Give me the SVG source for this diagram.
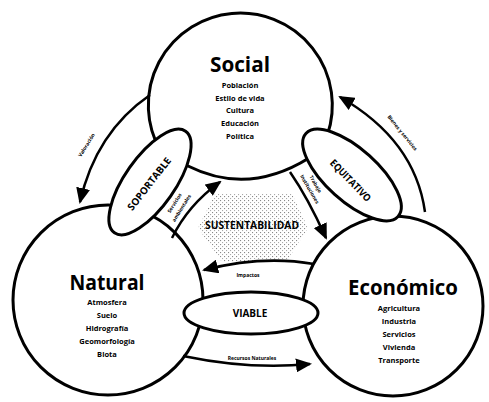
<svg xmlns="http://www.w3.org/2000/svg" width="489" height="402" viewBox="0 0 489 402">
<style>
.ring{fill:#fff;stroke:#000;stroke-width:3}
.arr{fill:none;stroke:#000;stroke-width:2.5;marker-end:url(#ah)}
.ttl{font-family:"Open Sans","Noto Sans",sans-serif;font-weight:700;font-size:22px;text-anchor:middle}
.itm{font-family:"Open Sans","Noto Sans",sans-serif;font-weight:700;font-size:7.5px;text-anchor:middle}
.lab{font-family:"Open Sans","Noto Sans",sans-serif;font-weight:700;font-size:10px;text-anchor:middle}
.tiny{font-family:"Open Sans","Noto Sans",sans-serif;font-weight:700;font-size:5px;text-anchor:middle}
</style>
<defs>
<marker id="ah" markerUnits="userSpaceOnUse" markerWidth="16" markerHeight="14" refX="14" refY="7" orient="auto">
<path d="M0,0 L16,7 L0,14 z" fill="#000"/>
</marker>
<pattern id="dots" width="4" height="4" patternUnits="userSpaceOnUse">
<rect x="0" y="0" width="1.1" height="1.1" fill="#888"/>
<rect x="2" y="2" width="1.1" height="1.1" fill="#aaa"/>
</pattern>
</defs>
<rect width="489" height="402" fill="#fff"/>

<g id="natural">
<circle class="ring" cx="108" cy="300" r="95"/>
</g>
<g id="economico">
<circle class="ring" cx="393" cy="306" r="90"/>
</g>
<g id="social">
<path class="ring" d="M 160 150 A 92 92 0 1 1 327.5 134.5 L 309 158 Q 248 196 188 166 Z"/>
</g>
<g id="sustentabilidad">
<polygon points="215,194 292,194 308,228 286,262 222,262 198,228" fill="url(#dots)"/>
<text class="lab" x="252" y="229" font-size="12" textLength="94" lengthAdjust="spacingAndGlyphs">SUSTENTABILIDAD</text>
</g>

<g id="connectors">
<path class="arr" d="M 150 95 Q 96 132 80 202"/>
<path class="arr" d="M 425 212 Q 415 140 340 97"/>
<path class="arr" d="M 183 356 Q 250 370 310 364"/>
<path class="arr" d="M 314 264 Q 262 255 204 270"/>
<path class="arr" d="M 172 238 Q 188 205 220 182"/>
<path class="arr" d="M 290 172 Q 308 198 326 238"/>
<text class="tiny" transform="translate(88,146) rotate(-58)">Valoración</text>
<text class="tiny" transform="translate(401,134) rotate(51)">Bienes y servicios</text>
<text class="tiny" x="252" y="360">Recursos Naturales</text>
<text class="tiny" x="248" y="277">Impactos</text>
<text class="tiny" transform="translate(176,204) rotate(-58)">Servicios</text>
<text class="tiny" transform="translate(183,209) rotate(-58)">ambientales</text>
<text class="tiny" transform="translate(314,185) rotate(60)">Trabajo</text>
<text class="tiny" transform="translate(308,190) rotate(60)">Instituciones</text>
</g>

<g id="soportable">
<ellipse class="ring" cx="150" cy="182" rx="62" ry="25" transform="rotate(-55 150 182)"/>
<text class="lab" transform="translate(152,186) rotate(-52)" textLength="64" lengthAdjust="spacingAndGlyphs">SOPORTABLE</text>
</g>
<g id="equitativo">
<ellipse class="ring" cx="352" cy="175" rx="62" ry="26" transform="rotate(42 352 175)"/>
<text class="lab" transform="translate(348,183) rotate(46)" textLength="54" lengthAdjust="spacingAndGlyphs">EQUITATIVO</text>
</g>
<g id="viable">
<ellipse class="ring" cx="251" cy="313" rx="67" ry="21"/>
<text class="lab" x="250" y="317">VIABLE</text>
</g>

<g id="social-text">
<text class="ttl" x="240" y="72" textLength="60" lengthAdjust="spacingAndGlyphs">Social</text>
<text class="itm" x="240" y="88">Población</text>
<text class="itm" x="240" y="101">Estilo de vida</text>
<text class="itm" x="240" y="113">Cultura</text>
<text class="itm" x="240" y="126">Educación</text>
<text class="itm" x="240" y="139">Política</text>
</g>
<g id="natural-text">
<text class="ttl" x="107" y="290" textLength="75" lengthAdjust="spacingAndGlyphs">Natural</text>
<text class="itm" x="107" y="305">Atmosfera</text>
<text class="itm" x="107" y="318">Suelo</text>
<text class="itm" x="107" y="331">Hidrografía</text>
<text class="itm" x="107" y="344">Geomorfología</text>
<text class="itm" x="107" y="357">Biota</text>
</g>
<g id="economico-text">
<text class="ttl" x="403" y="295" font-weight="600" textLength="110" lengthAdjust="spacingAndGlyphs">Económico</text>
<text class="itm" x="399" y="311">Agricultura</text>
<text class="itm" x="399" y="324">Industria</text>
<text class="itm" x="399" y="337">Servicios</text>
<text class="itm" x="399" y="350">Vivienda</text>
<text class="itm" x="399" y="363">Transporte</text>
</g>
</svg>
